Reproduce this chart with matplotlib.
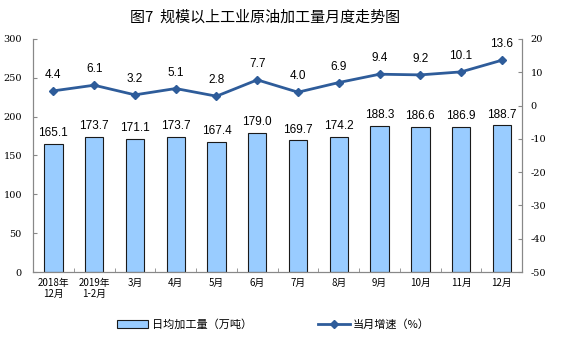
import matplotlib
matplotlib.use("Agg")
import matplotlib.pyplot as plt
import numpy as np

plt.rcParams['font.family'] = ['Noto Sans CJK SC', 'DejaVu Sans']
plt.rcParams['axes.unicode_minus'] = False

months = ["2018年\n12月", "2019年\n1-2月", "3月", "4月", "5月", "6月",
          "7月", "8月", "9月", "10月", "11月", "12月"]
daily = [165.1, 173.7, 171.1, 173.7, 167.4, 179.0, 169.7, 174.2, 188.3, 186.6, 186.9, 188.7]
growth = [4.4, 6.1, 3.2, 5.1, 2.8, 7.7, 4.0, 6.9, 9.4, 9.2, 10.1, 13.6]

BAR_C = "#99CCFF"
LINE_C = "#2E5C9A"

fig = plt.figure(figsize=(5.64, 3.57), dpi=100)
ax = fig.add_axes([0.0585, 0.238, 0.8675, 0.653])
x = np.arange(len(months))
bars = ax.bar(x, daily, width=0.45, color=BAR_C, edgecolor="#1a1a1a", linewidth=0.8,
              label="日均加工量（万吨）")
for xi, v in zip(x, daily):
    ax.text(xi, v + 6, f"{v:.1f}", ha="center", va="bottom", fontsize=8.5,
            family="Liberation Sans")
ax.set_ylim(0, 300)
ax.set_yticks(range(0, 301, 50))
ax.set_xlim(-0.5, len(months) - 0.5)
ax.set_xticks(x)
ax.set_xticklabels(months, fontsize=7, linespacing=1.2)
ax.set_xticks(np.arange(-0.5, len(months), 1), minor=True)
ax.tick_params(axis="x", which="major", length=0, pad=4)
ax.tick_params(axis="x", which="minor", length=3, color="#888888", direction="in")
ax.tick_params(axis="y", labelsize=7, length=3, color="#888888", pad=8, direction="in")
for t in ax.get_yticklabels():
    t.set_family("DejaVu Serif")
ax.spines["top"].set_visible(False)
for s in ["left", "bottom", "right"]:
    ax.spines[s].set_color("#888888")
    ax.spines[s].set_linewidth(0.8)

ax2 = ax.twinx()
line, = ax2.plot(x, growth, color=LINE_C, lw=2, marker="D", ms=4,
                 label="当月增速（%）")
for xi, v in zip(x, growth):
    ax2.text(xi, v + 3, f"{v:.1f}", ha="center", va="bottom", fontsize=8.5,
             family="Liberation Sans")
ax2.set_ylim(-50, 20)
ax2.set_yticks(range(-50, 21, 10))
ax2.tick_params(axis="y", labelsize=7, length=3, color="#888888", pad=6, direction="in")
for t in ax2.get_yticklabels():
    t.set_family("DejaVu Serif")
ax2.spines["top"].set_visible(False)
for s in ["left", "bottom", "right"]:
    ax2.spines[s].set_color("#888888")
    ax2.spines[s].set_linewidth(0.8)

fig.text(0.47, 0.952, "图7  规模以上工业原油加工量月度走势图", ha="center", va="center",
         fontsize=10.8)
fig.legend([bars, line], ["日均加工量（万吨）", "当月增速（%）"], loc="center",
           bbox_to_anchor=(0.485, 0.09), ncol=2, frameon=False, fontsize=8,
           columnspacing=6, handlelength=2.8, handletextpad=0.3)

fig.savefig("out.png", dpi=100)
